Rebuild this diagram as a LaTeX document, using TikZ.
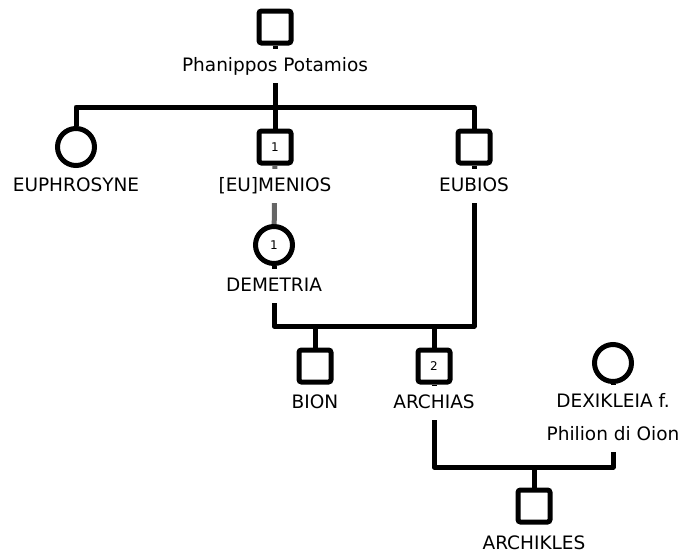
\documentclass[tikz,border=0pt]{standalone}
\usepackage{fontspec}
\setmainfont{DejaVu Sans}
\begin{document}
\begin{tikzpicture}[x=1pt,y=-1pt,
  male/.style={draw, line width=5pt, rounded corners=2.5pt, fill=white,
    minimum size=32pt, inner sep=0pt, font=\fontsize{12}{14}\selectfont},
  female/.style={draw, circle, line width=5pt, fill=white,
    minimum size=37pt, inner sep=0pt, font=\fontsize{12}{14}\selectfont},
  conn/.style={line width=5pt},
  faint/.style={line width=5pt, draw=black!60},
  lbl/.style={fill=white, inner xsep=1pt, inner ysep=8pt,
    text height=14pt, text depth=4pt,
    font=\fontsize{18.5}{20}\selectfont}]
\useasboundingbox (0,0) rectangle (686,555);

% people
\node[male]   (phan)   at (275,27)  {};
\node[female] (euphr)  at (76,147)  {};
\node[male]   (menios) at (275,147) {1};
\node[male]   (eubios) at (474,147) {};
\node[female] (demet)  at (274,245) {1};
\node[male]   (bion)   at (315,366) {};
\node[male]   (archias) at (434,366) {2};
\node[female] (dexik)  at (613,363) {};
\node[male]   (archik) at (534,506) {};

% junction points
\coordinate (sibL) at (76,107);
\coordinate (sibM) at (275,107);
\coordinate (sibR) at (474,107);
\coordinate (m1L) at (274,326);
\coordinate (m1R) at (474,326);
\coordinate (m1a) at (315,326);
\coordinate (m1b) at (434,326);
\coordinate (m2L) at (434,467);
\coordinate (m2R) at (613,467);
\coordinate (m2c) at (534,467);

% sibship of Phanippos' children
\draw[conn] (phan) -- (sibM);
\draw[conn, line join=round] (euphr) -- (sibL) -- (sibR) -- (eubios);
\draw[conn] (sibM) -- (menios);

% first union
\draw[faint] (menios) -- (demet);
\draw[conn, line join=round] (demet) -- (m1L) -- (m1R) -- (eubios);
\draw[conn] (m1a) -- (bion);
\draw[conn] (m1b) -- (archias);

% second union
\draw[conn, line join=round] (archias) -- (m2L) -- (m2R) -- (dexik);
\draw[conn] (m2c) -- (archik);

% names
\node[lbl] (tphan)   at (275,66)  {Phanippos Potamios};
\node[lbl] (teuphr)  at (76,186)  {EUPHROSYNE};
\node[lbl] (tmenios) at (275,186) {[EU]MENIOS};
\node[lbl] (teubios) at (474,186) {EUBIOS};
\node[lbl] (tdemet)  at (274,286) {DEMETRIA};
\node[lbl] (tbion)   at (315,403) {BION};
\node[lbl] (tarch)   at (434,403) {ARCHIAS};
\node[lbl] (tdex)    at (613,402) {DEXIKLEIA f.};
\node[lbl] (tphil)   at (613,435) {Philion di Oion};
\node[lbl] (tarchik) at (534,544) {ARCHIKLES};
\end{tikzpicture}
\end{document}
